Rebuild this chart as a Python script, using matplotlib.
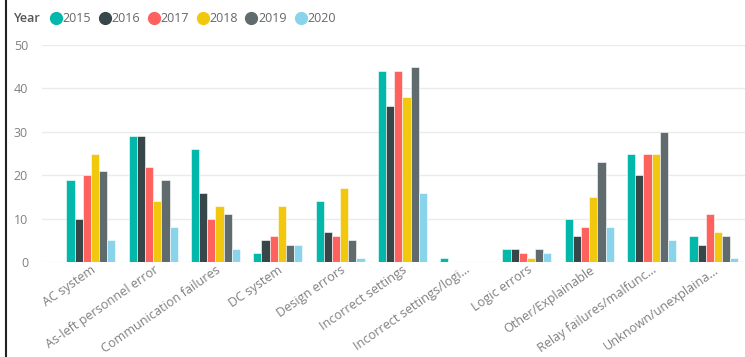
import matplotlib
matplotlib.use("Agg")
import matplotlib.pyplot as plt
import numpy as np
from matplotlib.lines import Line2D

categories = ["AC system", "As-left personnel error", "Communication failures",
              "DC system", "Design errors", "Incorrect settings",
              "Incorrect settings/logi...", "Logic errors", "Other/Explainable",
              "Relay failures/malfunc...", "Unknown/unexplaina..."]
years = ["2015", "2016", "2017", "2018", "2019", "2020"]
v2015 = [19, 29, 26, 2, 14, 44, 1, 3, 10, 25, 6]
v2016 = [10, 29, 16, 5, 7, 36, 0, 3, 6, 20, 4]
v2017 = [20, 22, 10, 6, 6, 44, 0, 2, 8, 25, 11]
v2018 = [25, 14, 13, 13, 17, 38, 0, 1, 15, 25, 7]
v2019 = [21, 19, 11, 4, 5, 45, 0, 3, 23, 30, 6]
v2020 = [5, 8, 3, 4, 1, 16, 0, 2, 8, 5, 1]
series = [v2015, v2016, v2017, v2018, v2019, v2020]
colors = ["#01B8AA", "#374649", "#FD625E", "#F2C80F", "#5F6B6D", "#8AD4EB"]
yticks = [0, 10, 20, 30, 40, 50]

W, H = 745, 357
fig = plt.figure(figsize=(W / 100, H / 100), dpi=100)
plt.rcParams['font.family'] = ['Open Sans', 'DejaVu Sans']

ax = fig.add_axes([42 / W, (H - 262) / H, (W - 42) / W, (262 - 45) / H])
x = np.arange(len(categories))
bw = 0.131
for i, (vals, c) in enumerate(zip(series, colors)):
    ax.bar(x + (i - 2.5) * bw, vals, width=bw, color=c, edgecolor="white",
           linewidth=0.4, zorder=3)

ax.set_ylim(0, 50)
ax.set_xlim(-0.785, 10.5)
ax.set_yticks(yticks)
ax.yaxis.grid(True, color="#ebebeb", linewidth=1.0, zorder=0)
ax.tick_params(axis="y", length=0, pad=10, labelsize=9, labelcolor="#808080")
ax.tick_params(axis="x", length=0, pad=1, labelsize=9.1, labelcolor="#808080")
ax.set_xticks(x)
ax.set_xticklabels(categories, rotation=35, ha="right", rotation_mode="anchor")
for s in ax.spines.values():
    s.set_visible(False)

# legend
fig.text(14 / W, 1 - 18 / H, "Year", ha="left", va="center", fontsize=9,
         color="#555555", fontweight="semibold")
for k, (yr, c) in enumerate(zip(years, colors)):
    cx = 55.5 + k * 49
    fig.add_artist(Line2D([cx / W], [1 - 18 / H], marker="o", markersize=8.5,
                          color=c, linestyle="none", transform=fig.transFigure))
    fig.text((cx + 6.5) / W, 1 - 18 / H, yr, ha="left", va="center",
             fontsize=9, color="#666666")

# left border line
fig.add_artist(Line2D([6 / W, 6 / W], [0, 1], color="#222222", linewidth=1.5,
                      transform=fig.transFigure))

fig.savefig("out.png", dpi=100)
